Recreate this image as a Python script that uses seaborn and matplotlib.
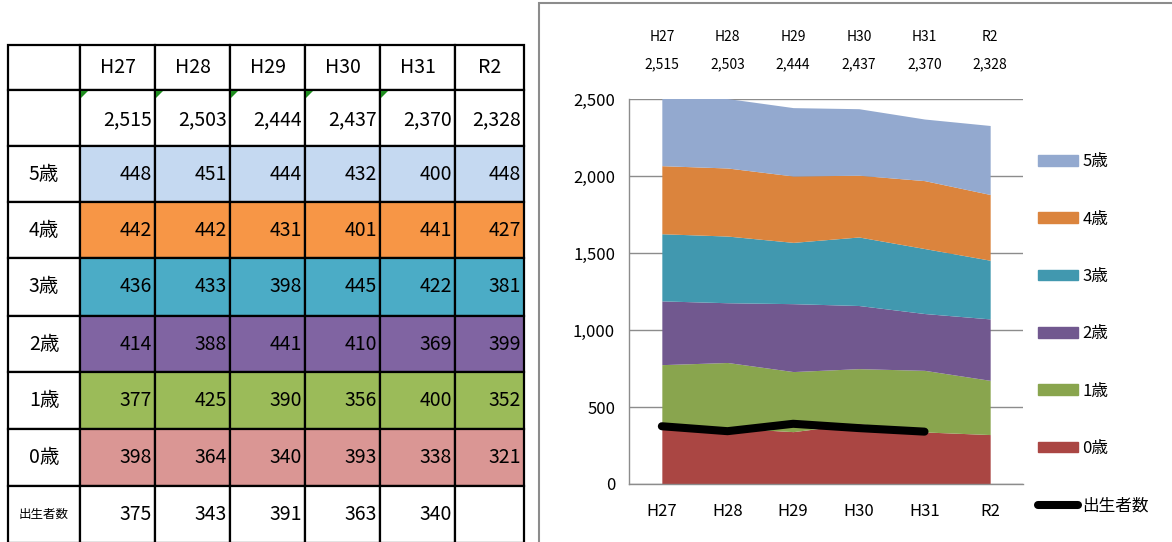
import numpy as np
import pandas as pd
import matplotlib.pyplot as plt
import seaborn as sns
from matplotlib.patches import Rectangle, Polygon
from matplotlib.lines import Line2D

# data
years = ["H27", "H28", "H29", "H30", "H31", "R2"]
totals = [2515, 2503, 2444, 2437, 2370, 2328]
age5 = [448, 451, 444, 432, 400, 448]
age4 = [442, 442, 431, 401, 441, 427]
age3 = [436, 433, 398, 445, 422, 381]
age2 = [414, 388, 441, 410, 369, 399]
age1 = [377, 425, 390, 356, 400, 352]
age0 = [398, 364, 340, 393, 338, 321]
births = [375, 343, 391, 363, 340, None]

age_labels = ["5歳", "4歳", "3歳", "2歳", "1歳", "0歳"]
age_rows = [age5, age4, age3, age2, age1, age0]
table_colors = ["#C5D9F1", "#F79646", "#4BACC6", "#8064A2", "#9BBB59", "#DA9694"]
area_colors = ["#93A9CF", "#DB843D", "#4198AF", "#71588F", "#89A54E", "#AA4643"]

sns.set_style("white")
plt.rcParams['font.family'] = ['Noto Sans CJK JP', 'DejaVu Sans']
plt.rcParams['text.color'] = 'black'
plt.rcParams['xtick.color'] = 'black'
plt.rcParams['ytick.color'] = 'black'

fig = plt.figure(figsize=(11.72, 5.42), dpi=100)

# ---------- left: the table (pixel layout) ----------
tab = fig.add_axes([0, 0, 1, 1])
tab.set_xlim(0, 1172)
tab.set_ylim(542, 0)
tab.axis("off")

col_edges = np.cumsum([8, 72, 75, 75, 75, 75, 75, 69])
row_edges = np.cumsum([45, 45, 56, 56, 56, 58, 56, 57, 57, 57])

def cell(r, c, fill="white"):
    x0, x1 = col_edges[c], col_edges[c + 1]
    y0, y1 = row_edges[r], row_edges[r + 1]
    tab.add_patch(Rectangle((x0, y0), x1 - x0, y1 - y0, facecolor=fill,
                            edgecolor="black", lw=1.6))
    return x0, x1, (y0 + y1) / 2

fs = 14
# header
cell(0, 0)
for j, y in enumerate(years):
    x0, x1, yc = cell(0, j + 1)
    tab.text((x0 + x1) / 2, yc, y, ha="center", va="center", fontsize=fs)
# totals
cell(1, 0)
for j, v in enumerate(totals):
    x0, x1, yc = cell(1, j + 1)
    tab.text(x1 - 3, yc + 2, f"{v:,}", ha="right", va="center", fontsize=fs)
    if j < 5:
        tab.add_patch(Polygon([[x0 + 1, row_edges[1] + 1], [x0 + 8, row_edges[1] + 1],
                               [x0 + 1, row_edges[1] + 8]], color="#1E8C1E", lw=0))
# age rows
for i, (lab, vals, col) in enumerate(zip(age_labels, age_rows, table_colors)):
    x0, x1, yc = cell(i + 2, 0)
    tab.text((x0 + x1) / 2, yc, lab, ha="center", va="center", fontsize=fs)
    for j, v in enumerate(vals):
        x0, x1, yc = cell(i + 2, j + 1, col)
        tab.text(x1 - 3, yc, f"{v:,}", ha="right", va="center", fontsize=fs)
# births row
x0, x1, yc = cell(8, 0)
tab.text((x0 + x1) / 2, yc, "出生者数", ha="center", va="center", fontsize=9)
for j, v in enumerate(births):
    x0, x1, yc = cell(8, j + 1)
    if v is not None:
        tab.text(x1 - 3, yc, f"{v:,}", ha="right", va="center", fontsize=fs)

# chart frame
tab.add_patch(Rectangle((539, 3), 700, 600, facecolor="white", edgecolor="#8C8C8C", lw=1.5))

# ---------- right: stacked area chart ----------
ax = fig.add_axes([629 / 1172, (542 - 484) / 542, (1023 - 629) / 1172, 385 / 542])
x = np.arange(len(years))
stack = [age0, age1, age2, age3, age4, age5]
ax.stackplot(x, stack, colors=area_colors[::-1], lw=0, zorder=2)

df_b = pd.DataFrame({"x": x[:5], "births": births[:5]})
sns.lineplot(data=df_b, x="x", y="births", ax=ax, color="black", lw=5.8,
             solid_capstyle="round", zorder=3)

ax.set_xlim(-0.5, 5.5)
ax.set_ylim(0, 2500)
ax.set_yticks(range(0, 2501, 500))
ax.set_yticklabels([f"{v:,}" for v in range(0, 2501, 500)], fontsize=12)
ax.set_xticks(x)
ax.set_xticklabels(years, fontsize=12)
ax.set_xticks(np.arange(-0.5, 6, 1), minor=True)
ax.tick_params(axis="x", which="major", length=0, pad=14)
ax.tick_params(axis="x", which="minor", length=6, color="#888888", direction="out")
ax.tick_params(axis="y", length=6, color="#888888", labelcolor="black", direction="out", pad=4)
ax.tick_params(axis="x", labelcolor="black")
ax.set_xlabel("")
ax.set_ylabel("")
ax.grid(axis="y", color="#8C8C8C", lw=1, zorder=0)
ax.set_axisbelow(True)
for s in ["top", "right"]:
    ax.spines[s].set_visible(False)
for s in ["left", "bottom"]:
    ax.spines[s].set_color("#8C8C8C")
    ax.spines[s].set_linewidth(1)

# year / total labels above the plot
tr = ax.get_xaxis_transform()
for xi, y, t in zip(x, years, totals):
    ax.text(xi, 1.161, y, transform=tr, ha="center", va="center", fontsize=10)
    ax.text(xi, 1.091, f"{t:,}", transform=tr, ha="center", va="center", fontsize=10)

# legend
handles = [Rectangle((0, 0), 1, 1, color=c) for c in area_colors]
handles.append(Line2D([0], [0], color="black", lw=5.8, solid_capstyle="round"))
labels = age_labels + ["出生者数"]
fig.legend(handles, labels, loc="upper left", bbox_to_anchor=(1030 / 1172, 1 - 145 / 542),
           frameon=False, fontsize=12, handlelength=2.4, handleheight=0.6,
           handletextpad=0.25, labelspacing=2.42, borderpad=0)

fig.savefig("out.png", dpi=100)
